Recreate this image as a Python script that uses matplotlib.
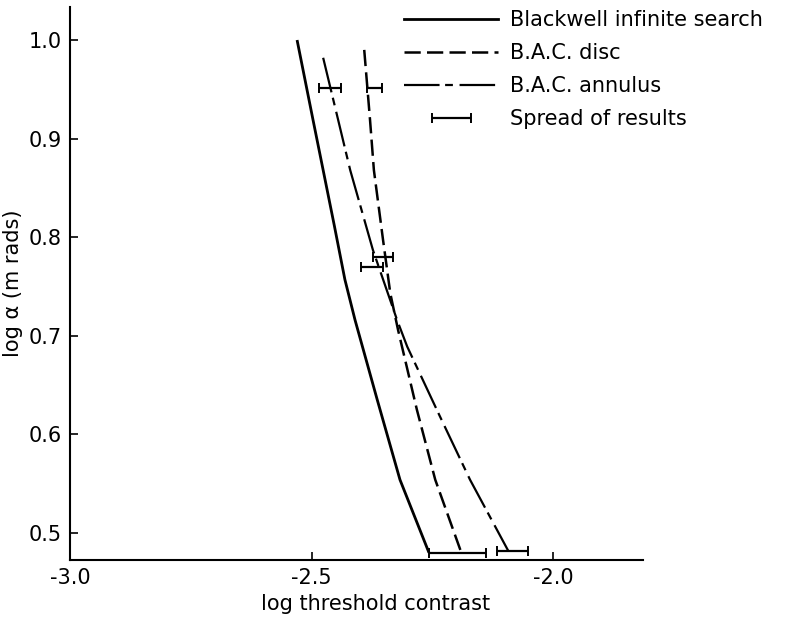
import matplotlib
matplotlib.use("Agg")
import matplotlib.pyplot as plt
from matplotlib.lines import Line2D
from matplotlib.legend_handler import HandlerErrorbar

blackwell_x = [-2.530, -2.497, -2.476, -2.453, -2.431, -2.410, -2.364, -2.317, -2.257]
blackwell_y = [1.000, 0.919, 0.868, 0.812, 0.757, 0.716, 0.635, 0.554, 0.480]

disc_x = [-2.391, -2.379, -2.371, -2.352, -2.337, -2.321, -2.282, -2.244, -2.190]
disc_y = [0.990, 0.919, 0.868, 0.797, 0.743, 0.706, 0.625, 0.554, 0.480]

annulus_x = [-2.476, -2.445, -2.420, -2.373, -2.323, -2.302, -2.236, -2.172, -2.093]
annulus_y = [0.982, 0.919, 0.868, 0.787, 0.716, 0.689, 0.620, 0.554, 0.482]

# spread of results: low / high x at a given y
spread_lo = [-2.484, -2.385, -2.373, -2.398, -2.257, -2.116]
spread_hi = [-2.439, -2.354, -2.331, -2.352, -2.139, -2.052]
spread_y = [0.951, 0.951, 0.780, 0.770, 0.480, 0.482]

x_ticks = [-3.0, -2.5, -2.0]
y_ticks = [0.5, 0.6, 0.7, 0.8, 0.9, 1.0]

FS = 15

fig = plt.figure(figsize=(7.95, 6.18), dpi=100)
ax = fig.add_axes([70 / 795, 1 - 560 / 618, 573 / 795, 553 / 618])

ax.plot(blackwell_x, blackwell_y, color="black", lw=2.0, solid_capstyle="butt")
ax.plot(disc_x, disc_y, color="black", lw=1.8, dashes=(6.5, 2.5))
ax.plot(annulus_x, annulus_y, color="black", lw=1.6, dashes=(16, 2.5, 3.5, 3))

centers = [(lo + hi) / 2 for lo, hi in zip(spread_lo, spread_hi)]
halves = [(hi - lo) / 2 for lo, hi in zip(spread_lo, spread_hi)]
eb = ax.errorbar(centers, spread_y, xerr=halves, fmt="none", ecolor="black",
                 elinewidth=1.6, capsize=3.5, capthick=1.4)

ax.set_xlim(-3.0, -1.814)
ax.set_ylim(0.4726, 1.0335)
ax.set_xticks(x_ticks)
ax.set_xticklabels([f"{t:.1f}" for t in x_ticks])
ax.set_yticks(y_ticks)
ax.set_yticklabels([f"{t:.1f}" for t in y_ticks])
ax.tick_params(direction="in", length=6, width=1.2, labelsize=FS, pad=6)

for s in ["top", "right"]:
    ax.spines[s].set_visible(False)
for s in ["left", "bottom"]:
    ax.spines[s].set_linewidth(1.5)

ax.set_xlabel("log threshold contrast", fontsize=FS)
ax.xaxis.set_label_coords((376 - 70) / 573, -0.062)
ax.set_ylabel("log α (m rads)", fontsize=FS)
ax.yaxis.set_label_coords(-0.082, 0.5)

handles = [
    Line2D([], [], color="black", lw=2.0),
    Line2D([], [], color="black", lw=1.8, dashes=(6.5, 2.5)),
    Line2D([], [], color="black", lw=1.6, dashes=(16, 2.5, 3.5, 3)),
    eb,
]
labels = ["Blackwell infinite search", "B.A.C. disc", "B.A.C. annulus", "Spread of results"]
leg = fig.legend(handles, labels, loc="upper left", bbox_to_anchor=(396 / 795, 1 - 2 / 618),
                 frameon=False, fontsize=FS, handlelength=4.5, handletextpad=0.55,
                 labelspacing=0.62, borderaxespad=0,
                 handler_map={type(eb): HandlerErrorbar(xerr_size=0.93)})

fig.savefig("out.png", dpi=100)
